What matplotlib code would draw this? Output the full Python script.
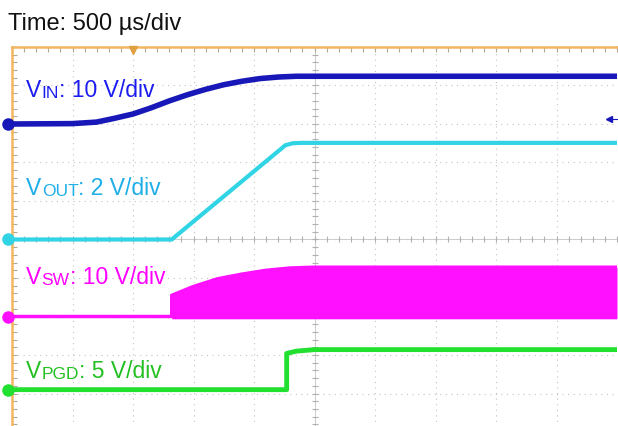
import numpy as np
import matplotlib.pyplot as plt

plt.rcParams["font.family"] = ["Liberation Sans", "DejaVu Sans"]

# -----------------------------------------------------
# Scope settings (screen is 10 x 10 divisions)
# -----------------------------------------------------

TIME_PER_DIV = 0.5  # ms  (500 us/div)

# channel ground positions (divisions from bottom) and scales (V/div)
VIN_GND, VIN_SCALE = 8.0, 10.0
VOUT_GND, VOUT_SCALE = 5.0, 2.0
VSW_GND, VSW_SCALE = 3.0, 10.0
VPGD_GND, VPGD_SCALE = 1.1, 5.0

# -----------------------------------------------------
# Waveforms (time in ms, volts)
# -----------------------------------------------------

vin_t = [0, 0.5, 0.7, 0.85, 1.0, 1.15, 1.3, 1.45, 1.6, 1.75, 1.9, 2.05, 2.2, 2.35, 5.0]
vin_v = [0, 0.1, 0.5, 1.5, 2.6, 4.2, 6.0, 7.6, 9.0, 10.2, 11.1, 11.8, 12.2, 12.4, 12.4]

vout_t = [0, 1.32, 2.26, 2.32, 2.4, 5.0]
vout_v = [0, 0, 4.9, 5.0, 5.02, 5.02]

vsw_t = [0, 1.32, 1.32, 1.5, 1.7, 1.9, 2.1, 2.3, 2.5, 5.0]
vsw_v = [0, 0, 5.5, 7.8, 9.8, 11.0, 12.0, 12.6, 12.8, 12.8]

vpgd_t = [0, 2.27, 2.27, 2.35, 2.5, 5.0]
vpgd_v = [0, 0, 4.7, 5.0, 5.2, 5.2]

C_VIN, C_VIN_TXT = "#1818b8", "#1c1cf0"
C_VOUT, C_VOUT_TXT = "#30d4e4", "#1eaee8"
C_VSW, C_VSW_TXT = "#ff10ff", "#ff00ff"
C_VPGD, C_VPGD_TXT = "#22e030", "#22c022"
ORANGE = "#f2b660"
GRID = "#c4c4c4"

W, H = 618, 426


def div(v, gnd, scale):
    return gnd + np.asarray(v) / scale


# -----------------------------------------------------
# Figure
# -----------------------------------------------------

fig = plt.figure(figsize=(W / 100, H / 100), dpi=100)
ax = fig.add_axes([12 / W, (H - 432) / H, 605 / W, 385 / H])
ax.set_xlim(0, 10 * TIME_PER_DIV)
ax.set_ylim(0, 10)
ax.set_xticks([])
ax.set_yticks([])
for side in ["right", "bottom"]:
    ax.spines[side].set_visible(False)
for side in ["left", "top"]:
    ax.spines[side].set_color(ORANGE)
    ax.spines[side].set_linewidth(1.8)

# dotted graticule
for k in range(1, 11):
    ax.axvline(k * TIME_PER_DIV, color=GRID, lw=0.8, ls=(0, (1, 4)), zorder=0)
for k in range(1, 10):
    ax.axhline(k, color=GRID, lw=0.8, ls=(0, (1, 4)), zorder=0)

# center lines with minor ticks
ax.axhline(5, color="#cccccc", lw=0.7, zorder=0)
ax.axvline(2.5, color="#cccccc", lw=0.7, zorder=0)
mt = np.arange(0, 5.001, TIME_PER_DIV / 5)
mv = np.arange(0, 10.001, 0.2)
ax.plot(mt, np.full(len(mt), 5), ls="none", marker="|", ms=5, color="#b0b0b0", mew=0.8, zorder=0)
ax.plot(np.full(len(mv), 2.5), mv, ls="none", marker="_", ms=5, color="#b0b0b0", mew=0.8, zorder=0)
# border ticks
ax.plot(mt, np.full(len(mt), 9.95), ls="none", marker="|", ms=4, color="#b0a890", mew=0.8, clip_on=False)
ax.plot(np.full(len(mv), 0.02), mv, ls="none", marker="_", ms=5, color="#b0a890", mew=0.8, clip_on=False)

# trigger position marker
ax.plot([1.0], [9.93], marker="v", ms=6, color="#e0a040", clip_on=False, zorder=5)
# trigger level marker
ax.plot([4.93], [8.13], marker="<", ms=4, color=C_VIN, clip_on=False, zorder=5)
ax.plot([4.93, 5.0], [8.13, 8.13], color=C_VIN, lw=0.8, clip_on=False, zorder=5)

# traces
ax.fill_between(vsw_t, VSW_GND - 0.06, div(vsw_v, VSW_GND, VSW_SCALE),
                where=np.asarray(vsw_v) > 0, color=C_VSW, lw=0, zorder=2)
ax.plot(vsw_t, div(vsw_v, VSW_GND, VSW_SCALE), color=C_VSW, lw=2.5, zorder=2)
ax.plot(vin_t, div(vin_v, VIN_GND, VIN_SCALE), color=C_VIN, lw=4, zorder=3)
ax.plot(vout_t, div(vout_v, VOUT_GND, VOUT_SCALE), color=C_VOUT, lw=3, zorder=3)
ax.plot(vpgd_t, div(vpgd_v, VPGD_GND, VPGD_SCALE), color=C_VPGD, lw=3.5, zorder=3)

# ground markers
for gnd, col in [(VIN_GND, C_VIN), (VOUT_GND, C_VOUT), (VSW_GND, C_VSW), (VPGD_GND, C_VPGD)]:
    ax.plot([-0.03], [gnd], marker="o", ms=8, color=col, clip_on=False, zorder=6)

# -----------------------------------------------------
# Labels
# -----------------------------------------------------

fig.text(8 / W, 1 - 30 / H, "Time: 500 \u00b5s/div", fontsize=17, color="#111111", va="baseline")


def channel_label(x, y, sub, rest, color):
    t1 = fig.text(x / W, 1 - y / H, "V", fontsize=16.5, color=color, va="baseline")
    t2 = ax.annotate(sub, xy=(1, 0), xycoords=t1, xytext=(0.3, 0.9), textcoords="offset points",
                     fontsize=12.5, color=color, va="bottom")
    ax.annotate(rest, xy=(1, 0), xycoords=t2, xytext=(0, -0.9), textcoords="offset points",
                fontsize=16.5, color=color, va="bottom")


channel_label(26, 97, "IN", ": 10 V/div", C_VIN_TXT)
channel_label(26, 195, "OUT", ": 2 V/div", C_VOUT_TXT)
channel_label(26, 284, "SW", ": 10 V/div", C_VSW_TXT)
channel_label(26, 378, "PGD", ": 5 V/div", C_VPGD_TXT)

fig.savefig("out.png", dpi=100)
plt.close(fig)
